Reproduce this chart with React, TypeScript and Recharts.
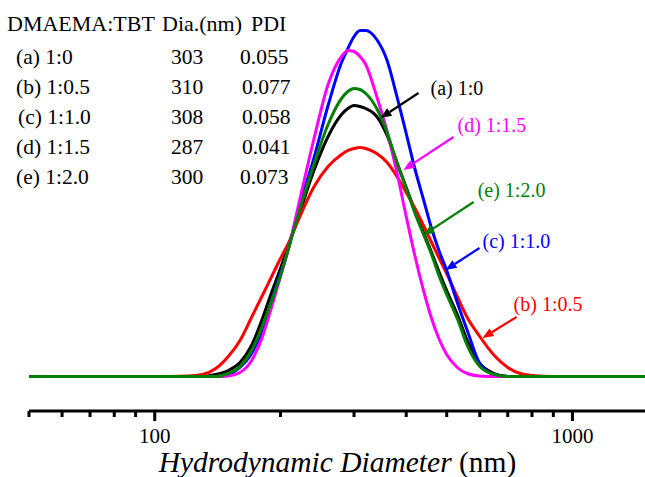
import React from 'react';
import { LineChart, Line, XAxis, YAxis, ReferenceLine, Customized } from 'recharts';

// hydrodynamic diameter (nm), log axis
const DIAMETERS = [50, 100, 120, 130, 140, 150, 160, 170, 180, 190, 200, 210, 220, 240, 260, 280, 290, 300, 310, 320, 340, 360, 380, 400, 420, 440, 460, 480, 500, 530, 560, 600, 650, 700, 750, 800, 900, 1000, 1500];

// intensity (a.u.)
const CURVE_A = [0, 0, 0, 0, 2, 6, 14, 30, 55, 83, 108, 134, 158, 205, 240, 262, 268, 271, 270, 268, 260, 241, 214, 189, 165, 144, 124, 104, 86, 62, 36, 13, 3, 0, 0, 0, 0, 0, 0];
const CURVE_B = [0, 0, 0.5, 2, 8, 20, 36, 58, 79, 99, 118, 135, 155, 189, 210, 222, 226, 228, 229, 228, 223, 214, 200, 184, 168, 151, 134, 118, 103, 80, 59, 40, 21, 9, 3, 1, 0, 0, 0];
const CURVE_C = [0, 0, 0, 0, 0, 2, 9, 22, 44, 74, 103, 131, 165, 217, 271, 314, 328, 340, 346, 346, 337, 316, 280, 243, 207, 177, 148, 125, 106, 74, 46, 13, 2, 0, 0, 0, 0, 0, 0];
const CURVE_D = [0, 0, 0, 0, 0, 0.5, 4, 15, 37, 68, 100, 131, 168, 236, 292, 320, 326, 325, 320, 312, 280, 245, 204, 160, 120, 86, 58, 37, 22, 9, 3, 0.5, 0, 0, 0, 0, 0, 0, 0];
const CURVE_E = [0, 0, 0, 0, 0, 3, 10, 25, 48, 74, 101, 131, 160, 211, 252, 278, 285, 288, 287, 283, 268, 244, 214, 188, 163, 142, 122, 100, 82, 58, 31, 10, 2, 0, 0, 0, 0, 0, 0];

const X_TICKS = [50, 60, 70, 80, 90, 100, 200, 300, 400, 500, 600, 700, 800, 900, 1000];

// table in the top-left corner
const SAMPLES = ['(a) 1:0', '(b) 1:0.5', '(c) 1:1.0', '(d) 1:1.5', '(e) 1:2.0'];
const DIA_NM = ['303', '310', '308', '287', '300'];
const PDI = ['0.055', '0.077', '0.058', '0.041', '0.073'];

const SERIES = [
    { key: 'a', color: '#000000' },
    { key: 'b', color: '#FF0000' },
    { key: 'c', color: '#0000FF' },
    { key: 'd', color: '#FF00FF' },
    { key: 'e', color: '#008000' },
];

// arrows: tail [diameter, intensity] -> tip [diameter, intensity]
const ANNOTATIONS = [
    { label: '(a) 1:0', color: '#000000', from: [428, 283.5], to: [347, 258.5], dx: 12, dy: 2 },
    { label: '(d) 1:1.5', color: '#FF00FF', from: [519, 239.5], to: [394, 206.5], dx: 4, dy: -5 },
    { label: '(e) 1:2.0', color: '#008000', from: [580, 174.5], to: [440, 141.5], dx: 4, dy: -5 },
    { label: '(c) 1:1.0', color: '#0000FF', from: [599, 128.5], to: [497, 106.5], dx: 3, dy: 0 },
    { label: '(b) 1:0.5', color: '#FF0000', from: [735, 59.5], to: [609, 38.5], dx: -3, dy: -6 },
];

const FONT = "'Liberation Serif', 'Times New Roman', serif";

const data = DIAMETERS.map((d, i) => ({
    d,
    a: CURVE_A[i],
    b: CURVE_B[i],
    c: CURVE_C[i],
    d_: CURVE_D[i],
    e: CURVE_E[i],
}));

function AxisTick(props: any) {
    const { x, y, payload } = props;
    const major = payload.value === 100 || payload.value === 1000;
    return (
        <g>
            <line x1={x} x2={x} y1={y} y2={y + (major ? 10 : 6)} stroke="#000" strokeWidth={3} />
            {major && (
                <text x={x} y={y + 32} textAnchor="middle" fontFamily={FONT} fontSize={21} fill="#000">
                    {payload.value}
                </text>
            )}
        </g>
    );
}

function AxisTitle(props: any) {
    const vb = props.viewBox || {};
    const cx = vb.x + vb.width / 2;
    return (
        <text x={cx} y={vb.y + 61} textAnchor="middle" fontFamily={FONT} fontSize={29.5} fill="#000">
            <tspan fontStyle="italic">Hydrodynamic Diameter</tspan>
            <tspan> (nm)</tspan>
        </text>
    );
}

function makeArrow(color: string, label: string, dx: number, dy: number) {
    return (p: any) => {
        const { x1, y1, x2, y2 } = p;
        const ang = Math.atan2(y2 - y1, x2 - x1);
        const len = 11;
        const w = 4.5;
        const bx = x2 - len * Math.cos(ang);
        const by = y2 - len * Math.sin(ang);
        const px = -Math.sin(ang) * w;
        const py = Math.cos(ang) * w;
        return (
            <g>
                <line x1={x1} y1={y1} x2={bx} y2={by} stroke={color} strokeWidth={2.2} />
                <polygon points={`${x2},${y2} ${bx + px},${by + py} ${bx - px},${by - py}`} fill={color} />
                <text x={x1 + dx} y={y1 + dy} fontFamily={FONT} fontSize={20} fill={color}>
                    {label}
                </text>
            </g>
        );
    };
}

function InfoTable() {
    return (
        <g fontFamily={FONT} fill="#000">
            <text x={7} y={31} fontSize={22}>DMAEMA:TBT</text>
            <text x={162} y={31} fontSize={22}>Dia.(nm)</text>
            <text x={251} y={31} fontSize={22}>PDI</text>
            {SAMPLES.map((s, i) => (
                <g key={s} fontSize={21.5}>
                    <text x={i === 2 ? 18 : 16} y={63.5 + i * 30}>{s}</text>
                    <text x={171} y={63.5 + i * 30}>{DIA_NM[i]}</text>
                    <text x={i === 0 || i === 4 ? 240 : 242} y={63.5 + i * 30}>{PDI[i]}</text>
                </g>
            ))}
        </g>
    );
}

export default function App() {
    return (
        <div
            style={{
                position: 'absolute',
                left: 0,
                top: 0,
                width: 645,
                height: 477,
                overflow: 'hidden',
                background: '#fff',
            }}
        >
            <LineChart width={650} height={477} data={data} margin={{ top: 30, right: 4, left: 29, bottom: 0 }}>
                <XAxis
                    dataKey="d"
                    type="number"
                    scale="log"
                    domain={[50, 1500]}
                    ticks={X_TICKS}
                    interval={0}
                    height={66}
                    tickSize={0}
                    tickMargin={0}
                    tickLine={false}
                    axisLine={{ stroke: '#000', strokeWidth: 3 }}
                    tick={<AxisTick />}
                    label={{ content: <AxisTitle /> }}
                />
                <YAxis hide type="number" domain={[-34.5, 346.5]} />
                {SERIES.map((s) => (
                    <Line
                        key={s.key}
                        type="monotone"
                        dataKey={s.key === 'd' ? 'd_' : s.key}
                        stroke={s.color}
                        strokeWidth={3}
                        dot={false}
                        activeDot={false}
                        isAnimationActive={false}
                    />
                ))}
                {ANNOTATIONS.map((a) => (
                    <ReferenceLine
                        key={a.label}
                        segment={[
                            { x: a.from[0], y: a.from[1] },
                            { x: a.to[0], y: a.to[1] },
                        ]}
                        ifOverflow="visible"
                        shape={makeArrow(a.color, a.label, a.dx, a.dy)}
                    />
                ))}
                <Customized component={<InfoTable />} />
            </LineChart>
        </div>
    );
}
